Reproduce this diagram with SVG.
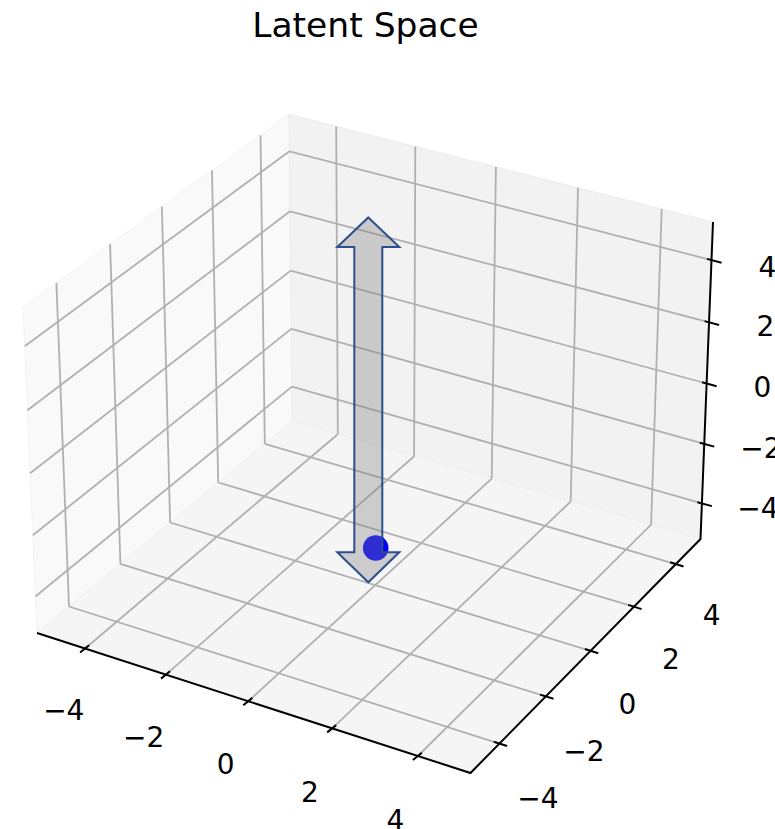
<svg xmlns="http://www.w3.org/2000/svg" width="775" height="829" viewBox="0 0 775 829">
<style>
.pane{stroke-width:1;stroke-linejoin:round}
.grid{fill:none;stroke:#b0b0b0;stroke-width:1.8}
.axis{fill:none;stroke:#000;stroke-width:2;stroke-linejoin:miter}
.tick{fill:none;stroke:#000;stroke-width:2}
.lbl{font-family:"DejaVu Sans","Liberation Sans",sans-serif;font-size:28px;fill:#000;text-anchor:middle}
.title{font-family:"DejaVu Sans","Liberation Sans",sans-serif;font-size:34.5px;fill:#000;text-anchor:middle}
</style>
<rect width="775" height="829" fill="#fff"/>
<text class="title" x="365.5" y="37">Latent Space</text>
<g id="panes">
<polygon class="pane" fill="#f9f9f9" stroke="#f3f3f3" points="37,633 292.3,421 289,114.5 23,307"/>
<polygon class="pane" fill="#f2f2f2" stroke="#ececec" points="292.3,421 700.5,539 713,222 289,114.5"/>
<polygon class="pane" fill="#f5f5f5" stroke="#efefef" points="37,633 470.5,773 700.5,539 292.3,421"/>
</g>
<g id="grid">
<path class="grid" d="M85.1,648.5L337.8,434.2M166,674.6L414.1,456.2M248.3,701.2L491.7,478.6M332.2,728.4L570.7,501.5M417.9,756L651.1,524.7"/>
<path class="grid" d="M69,606.5L499.4,743.6M120.4,563.8L545.8,696.4M170.1,522.5L590.6,650.8M218.2,482.5L633.9,606.7M264.8,443.8L675.8,564.1"/>
<path class="grid" d="M69,606.5L56.4,282.8M120.4,563.8L110.1,244M170.1,522.5L161.9,206.5M218.2,482.5L212,170.2M264.8,443.8L260.5,135.2"/>
<path class="grid" d="M35.4,596.5L291.9,386.6M32.8,535.3L291.3,328.9M30.1,473.3L290.7,270.6M27.4,410.2L290,211.3M24.7,346.2L289.4,151.3"/>
<path class="grid" d="M337.8,434.2L336.2,126.5M414.1,456.2L415.3,146.5M491.7,478.6L495.9,167M570.7,501.5L578,187.8M651.1,524.7L661.7,209"/>
<path class="grid" d="M291.9,386.6L701.9,503.4M291.3,328.9L704.3,443.9M290.7,270.6L706.6,383.5M290,211.3L709.1,322.3M289.4,151.3L711.5,260.1"/>
</g>
<g id="axes">
<path class="axis" d="M37,633L470.5,773L700.5,539L713,222"/>
<path class="tick" d="M80.1,652.5L89.1,645.2M161,678.6L170,671.3M243.3,705.2L252.3,697.9M327.2,732.4L336.2,725.1M412.9,760L421.9,752.7"/>
<path class="tick" d="M493.7,741.8L507.1,746M540.1,694.6L553.5,698.8M584.9,649L598.3,653.2M628.2,604.9L641.6,609.1M670.1,562.3L683.5,566.5"/>
<path class="tick" d="M697.4,502.2L711.9,506.1M699.8,442.7L714.3,446.6M702.1,382.3L716.6,386.2M704.6,321.1L719.1,325M707,258.9L721.5,262.8"/>
</g>
<g id="xlabels">
<text class="lbl" x="63.8" y="720">−4</text>
<text class="lbl" x="143.7" y="746.7">−2</text>
<text class="lbl" x="225.7" y="774">0</text>
<text class="lbl" x="310" y="802.3">2</text>
<text class="lbl" x="395.3" y="829.5">4</text>
</g>
<g id="ylabels">
<text class="lbl" x="538" y="808.3">−4</text>
<text class="lbl" x="584" y="761">−2</text>
<text class="lbl" x="627.5" y="714">0</text>
<text class="lbl" x="671" y="669.3">2</text>
<text class="lbl" x="711.7" y="625">4</text>
</g>
<g id="zlabels">
<text class="lbl" x="767.5" y="276.5">4</text>
<text class="lbl" x="765.5" y="335.5">2</text>
<text class="lbl" x="762.5" y="396.5">0</text>
<text class="lbl" x="761" y="458">−2</text>
<text class="lbl" x="758" y="518">−4</text>
</g>
<g id="point">
<circle cx="375.7" cy="548" r="12.8" fill="#0000ff"/>
</g>
<g id="arrow">
<path d="M368.3,217.5L399.3,247L382.3,247L382.3,552.3L399.3,552.3L368.3,582.3L337.3,552.3L354.3,552.3L354.3,247L337.3,247Z" fill="#808080" fill-opacity="0.35" stroke="#2d4e8e" stroke-width="2" stroke-linejoin="miter"/>
</g>
</svg>
